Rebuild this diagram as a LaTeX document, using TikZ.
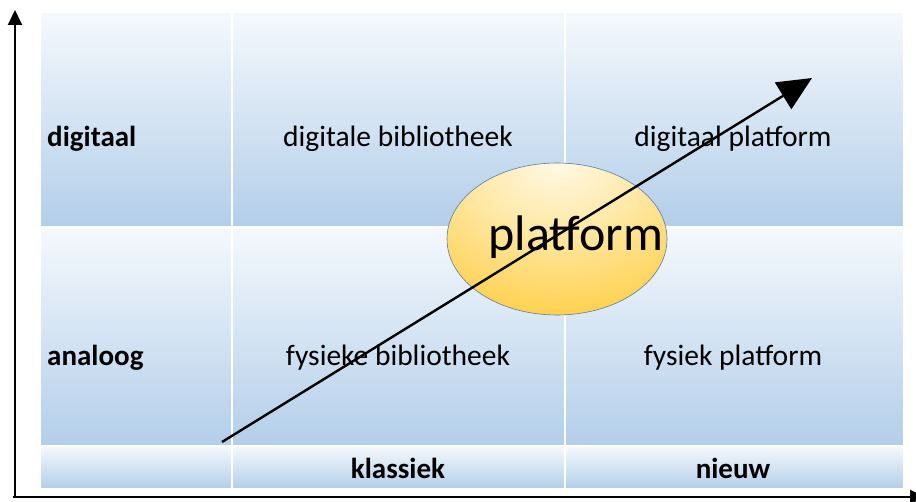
\documentclass[tikz,border=0pt]{standalone}
\usepackage{fontspec}
\setmainfont{Carlito}
\usetikzlibrary{arrows.meta,shapes.geometric}
\definecolor{celltop}{HTML}{F5F9FD}
\definecolor{cellbot}{HTML}{B3CEE9}
\definecolor{goldout}{HTML}{FFC420}
\definecolor{goldin}{HTML}{FFFBEB}
\definecolor{ellborder}{HTML}{5A7CA6}
\pgfdeclareradialshading{platshade}{\pgfpoint{0bp}{28bp}}{%
  color(0bp)=(goldin); color(20bp)=(goldin!65!goldout); color(52bp)=(goldout); color(90bp)=(goldout)}
\tikzset{
  cell/.style={rectangle, draw=white, line width=1.5pt, top color=celltop, bottom color=cellbot, inner sep=0pt},
  lbl/.style={font=\fontsize{29.5}{33}\selectfont, inner sep=0pt},
  blbl/.style={font=\fontsize{29}{33}\selectfont\bfseries, inner sep=0pt},
  axisarrow/.style={line width=2pt, -{Triangle[length=15pt,width=14pt]}},
  trend/.style={line width=2.4pt, -{Triangle[length=34pt,width=31pt]}},
}
\begin{document}
\begin{tikzpicture}[x=1pt,y=-1pt]
\useasboundingbox (0,0) rectangle (916,502);
% table cells
\node[cell, minimum width=192pt, minimum height=215pt] (c11) at (136,119.5) {};
\node[cell, minimum width=333pt, minimum height=215pt] (c12) at (398.5,119.5) {};
\node[cell, minimum width=339pt, minimum height=215pt] (c13) at (734.5,119.5) {};
\node[cell, minimum width=192pt, minimum height=219pt] (c21) at (136,336.5) {};
\node[cell, minimum width=333pt, minimum height=219pt] (c22) at (398.5,336.5) {};
\node[cell, minimum width=339pt, minimum height=219pt] (c23) at (734.5,336.5) {};
\node[cell, minimum width=192pt, minimum height=43pt] (c31) at (136,467.5) {};
\node[cell, minimum width=333pt, minimum height=43pt] (c32) at (398.5,467.5) {};
\node[cell, minimum width=339pt, minimum height=43pt] (c33) at (734.5,467.5) {};
% texts
\node[blbl, anchor=west] (tdig) at (47,139) {digitaal};
\node[blbl, anchor=west] (tana) at (47,358) {analoog};
\node[lbl] (tdb) at (398,139) {digitale bibliotheek};
\node[lbl] (tdp) at (733,139) {digitaal platform};
\node[lbl] (tfb) at (398,358) {fysieke bibliotheek};
\node[lbl] (tfp) at (733,358) {fysiek platform};
\node[blbl] (tkl) at (398,468) {klassiek};
\node[blbl] (tnw) at (733,468) {nieuw};
% platform ellipse
\node[ellipse, minimum width=220pt, minimum height=152pt, draw=ellborder, line width=0.6pt, shading=platshade] (plat) at (557,239) {};
\node[font=\fontsize{50}{54}\selectfont] (ptext) at (576,237) {platform};
% axes
\coordinate (orig) at (15,497);
\coordinate (ytop) at (15,10);
\coordinate (xleft) at (13,497);
\coordinate (xend) at (925,497);
\draw[axisarrow] (orig) -- (ytop);
\draw[axisarrow] (xleft) -- (xend);
% trend arrow
\coordinate (tstart) at (222,442);
\coordinate (tend) at (812,78);
\draw[trend] (tstart) -- (tend);
\end{tikzpicture}
\end{document}
